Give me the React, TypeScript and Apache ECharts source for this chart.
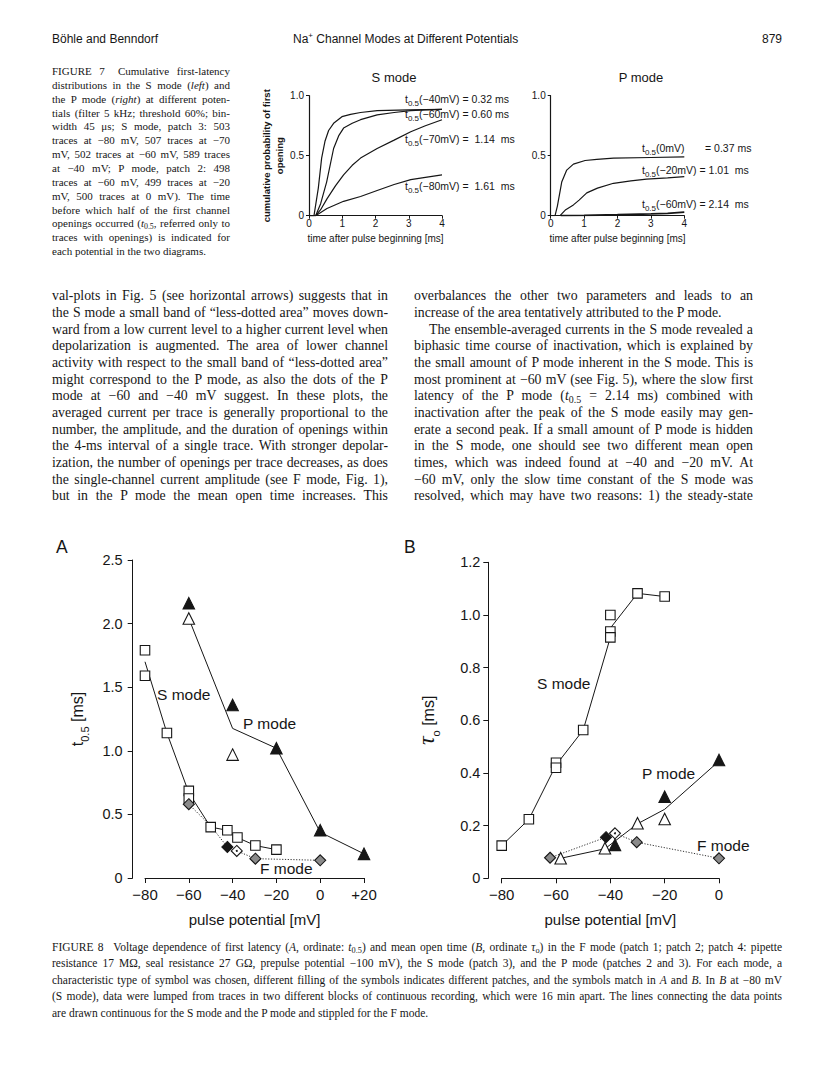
import React, { useEffect, useRef } from "react";
import * as echarts from "echarts";

// ---------- FIGURE 7 data (cumulative first-latency distributions) ----------
const fig7TimeMs = [0, 1, 2, 3, 4];
const sMode40 = [[0, 0], [0.15, 0], [0.28, 0.23], [0.38, 0.48], [0.48, 0.62], [0.59, 0.71], [0.74, 0.77], [0.99, 0.825], [1.25, 0.845], [1.55, 0.86], [2.05, 0.875], [3, 0.882], [4, 0.886]];
const sMode60 = [[0, 0], [0.2, 0], [0.35, 0.1], [0.53, 0.28], [0.74, 0.56], [0.9, 0.67], [1.04, 0.73], [1.3, 0.77], [1.55, 0.8], [2.05, 0.84], [2.56, 0.86], [3.06, 0.875], [3.5, 0.882], [4, 0.886]];
const sMode70 = [[0, 0], [0.2, 0], [0.35, 0.05], [0.54, 0.14], [0.8, 0.25], [1.04, 0.34], [1.3, 0.42], [1.55, 0.48], [2.05, 0.56], [2.56, 0.63], [3.06, 0.7], [3.5, 0.75], [4, 0.8]];
const sMode80 = [[0, 0], [0.2, 0], [0.54, 0.06], [1.04, 0.12], [1.55, 0.16], [2.05, 0.21], [2.56, 0.26], [3.06, 0.3], [3.5, 0.32], [4, 0.34]];
const pMode0 = [[0, 0], [0.13, 0], [0.2, 0.08], [0.33, 0.28], [0.48, 0.38], [0.68, 0.43], [1.03, 0.46], [1.38, 0.47], [1.88, 0.48], [3, 0.485], [4, 0.49]];
const pMode20 = [[0.28, 0], [0.45, 0.05], [0.68, 0.09], [0.85, 0.13], [1.08, 0.19], [1.4, 0.23], [1.88, 0.27], [2.4, 0.29], [2.87, 0.305], [3.5, 0.315], [4, 0.325]];
const pMode60 = [[0.3, 0], [1, 0.003], [2, 0.008], [3, 0.015], [3.5, 0.02], [4, 0.03]];
const sModeT05 = ["−40mV) = 0.32 ms", "−60mV) = 0.60 ms", "−70mV) =  1.14  ms", "−80mV) =  1.61  ms"];
const pModeT05 = ["−20mV) = 1.01  ms", "−60mV) = 2.14  ms"];

// ---------- FIGURE 8 A data: t0.5 [ms] vs pulse potential [mV] ----------
const potentialTicksA = [-80, -60, -40, -20, 0, 20];
const sSquaresA = [[-80, 1.79], [-80, 1.59], [-70, 1.14], [-60, 0.685], [-60, 0.625], [-50, 0.4], [-42.4, 0.375], [-37.8, 0.318], [-29.6, 0.255], [-20, 0.223]];
const sLineA = [[-80, 1.7], [-70, 1.14], [-60, 0.67], [-50, 0.4], [-42.4, 0.375], [-37.8, 0.318], [-29.6, 0.255], [-20, 0.223]];
const pFilledA = [[-60, 2.16], [-40, 1.36], [-20, 1.02], [0, 0.375], [20, 0.19]];
const pOpenA = [[-60, 2.04], [-40, 0.97]];
const pLineA = [[-60, 2.04], [-40, 1.176], [-20, 1.02], [0, 0.36], [20, 0.19]];
const fHatchA = [[-60, 0.58], [-29.6, 0.152], [0, 0.139]];
const fFilledA = [[-42.4, 0.244]];
const fOpenA = [[-38.1, 0.213]];
const fLineA = [[-60, 0.58], [-50, 0.41], [-42.4, 0.244], [-38.1, 0.213], [-29.6, 0.152], [0, 0.139]];

// ---------- FIGURE 8 B data: tau_o [ms] vs pulse potential [mV] ----------
const sSquaresB = [[-80, 0.124], [-70, 0.224], [-60, 0.439], [-60, 0.42], [-50, 0.563], [-40, 1.0], [-40, 0.937], [-40, 0.915], [-30, 1.082], [-20, 1.07]];
const sLineB = [[-80, 0.124], [-70, 0.224], [-60, 0.43], [-50, 0.563], [-40, 0.915], [-40, 0.95], [-30, 1.082], [-20, 1.07]];
const pOpenB = [[-58.3, 0.076], [-42, 0.114], [-30, 0.209], [-20, 0.225]];
const pFilledB = [[-38.3, 0.127], [-20, 0.31], [0, 0.449]];
const pLineB = [[-58.3, 0.076], [-42, 0.112], [-30, 0.207], [-20, 0.262], [0, 0.445]];
const fHatchB = [[-62.2, 0.078], [-30.3, 0.137], [0, 0.076]];
const fFilledB = [[-41.6, 0.156]];
const fOpenB = [[-38.3, 0.171]];
const fLineB = [[-62.2, 0.078], [-41.6, 0.156], [-38.3, 0.171], [-30.3, 0.137], [0, 0.076]];

// ---------- text ----------
const SANS = '"Liberation Sans", Arial, Helvetica, sans-serif';
const SERIF = '"Liberation Serif", "Times New Roman", serif';
const INK = "#161616";
const SUB = (s: string) => `<sub style="font-size:0.72em;vertical-align:-0.3em;line-height:0">${s}</sub>`;
const T05 = `<i>t</i>${SUB("0.5")}`;

const fig7Caption = [
  "FIGURE 7&ensp; Cumulative first-latency",
  "distributions in the S mode (<i>left</i>) and",
  "the P mode (<i>right</i>) at different poten-",
  "tials (filter 5 kHz; threshold 60%; bin-",
  "width 45 μs; S mode, patch 3: 503",
  "traces at −80 mV, 507 traces at −70",
  "mV, 502 traces at −60 mV, 589 traces",
  "at −40 mV; P mode, patch 2: 498",
  "traces at −60 mV, 499 traces at −20",
  "mV, 500 traces at 0 mV). The time",
  "before which half of the first channel",
  `openings occurred (${T05}, referred only to`,
  "traces with openings) is indicated for",
  "each potential in the two diagrams.",
];

const leftColumn = [
  "val-plots in Fig. 5 (see horizontal arrows) suggests that in",
  "the S mode a small band of “less-dotted area” moves down-",
  "ward from a low current level to a higher current level when",
  "depolarization is augmented. The area of lower channel",
  "activity with respect to the small band of “less-dotted area”",
  "might correspond to the P mode, as also the dots of the P",
  "mode at −60 and −40 mV suggest. In these plots, the",
  "averaged current per trace is generally proportional to the",
  "number, the amplitude, and the duration of openings within",
  "the 4-ms interval of a single trace. With stronger depolar-",
  "ization, the number of openings per trace decreases, as does",
  "the single-channel current amplitude (see F mode, Fig. 1),",
  "but in the P mode the mean open time increases. This",
];

const rightColumn = [
  "overbalances the other two parameters and leads to an",
  "increase of the area tentatively attributed to the P mode.",
  "The ensemble-averaged currents in the S mode revealed a",
  "biphasic time course of inactivation, which is explained by",
  "the small amount of P mode inherent in the S mode. This is",
  "most prominent at −60 mV (see Fig. 5), where the slow first",
  `latency of the P mode (${T05} = 2.14 ms) combined with`,
  "inactivation after the peak of the S mode easily may gen-",
  "erate a second peak. If a small amount of P mode is hidden",
  "in the S mode, one should see two different mean open",
  "times, which was indeed found at −40 and −20 mV. At",
  "−60 mV, only the slow time constant of the S mode was",
  "resolved, which may have two reasons: 1) the steady-state",
];

const fig8Caption = [
  `FIGURE 8&ensp; Voltage dependence of first latency (<i>A</i>, ordinate: ${T05}) and mean open time (<i>B</i>, ordinate <i>τ</i>${SUB("o")}) in the F mode (patch 1; patch 2; patch 4: pipette`,
  "resistance 17 MΩ, seal resistance 27 GΩ, prepulse potential −100 mV), the S mode (patch 3), and the P mode (patches 2 and 3). For each mode, a",
  "characteristic type of symbol was chosen, different filling of the symbols indicates different patches, and the symbols match in <i>A</i> and <i>B</i>. In <i>B</i> at −80 mV",
  "(S mode), data were lumped from traces in two different blocks of continuous recording, which were 16 min apart. The lines connecting the data points",
  "are drawn continuous for the S mode and the P mode and stippled for the F mode.",
];

// ---------- chart helpers ----------
const fmt1 = (v: number) => (v === 0 ? "0" : v.toFixed(1));
const fmtMv = (v: number) => (v > 0 ? "+" + v : v < 0 ? "−" + Math.abs(v) : "0");

function lineS(data: number[][], i: number, dotted = false, width = 1) {
  return {
    type: "line", xAxisIndex: i, yAxisIndex: i, data, symbol: "none", showSymbol: false, silent: true, z: 2,
    lineStyle: { color: dotted ? "#333" : INK, width, type: dotted ? [1.2, 1.6] : "solid" },
  };
}
function scat(data: number[][], i: number, symbol: string, size: number, fill: string, z = 3, border = 1.1) {
  return {
    type: "scatter", xAxisIndex: i, yAxisIndex: i, data, symbol, symbolSize: size, silent: true, z,
    itemStyle: { color: fill, borderColor: INK, borderWidth: border, opacity: 1 },
  };
}

function smallX(i: number) {
  return {
    gridIndex: i, type: "value", min: 0, max: 4, interval: 1,
    axisLine: { show: true, onZero: false, lineStyle: { color: INK, width: 1.2 } },
    axisTick: { show: true, length: 3, lineStyle: { color: INK } },
    splitLine: { show: false },
    axisLabel: { fontSize: 10, margin: 3, color: INK, fontFamily: SANS },
    name: "time after pulse beginning [ms]", nameLocation: "middle", nameGap: 18,
    nameTextStyle: { fontSize: 10, color: INK, fontFamily: SANS },
  };
}
function smallY(i: number, name: string) {
  return {
    gridIndex: i, type: "value", min: 0, max: 1, interval: 0.5,
    axisLine: { show: true, onZero: false, lineStyle: { color: INK, width: 1.2 } },
    axisTick: { show: true, length: 3, lineStyle: { color: INK } },
    splitLine: { show: false },
    axisLabel: { fontSize: 10, margin: 5, color: INK, fontFamily: SANS, formatter: fmt1 },
    name, nameLocation: "middle", nameGap: 21,
    nameTextStyle: { fontSize: 9.5, lineHeight: 13, color: INK, fontFamily: SANS, fontWeight: "bold" },
  };
}

function bigX(i: number, max: number) {
  return {
    gridIndex: i, type: "value", min: -80, max, interval: 20,
    axisLine: { show: true, onZero: false, lineStyle: { color: INK, width: 1 } },
    axisTick: { show: true, length: 5, lineStyle: { color: INK } },
    splitLine: { show: false },
    axisLabel: { fontSize: 15, margin: 9, color: INK, fontFamily: SANS, formatter: fmtMv },
    name: "pulse potential [mV]", nameLocation: "middle", nameGap: 34,
    nameTextStyle: { fontSize: 15, color: INK, fontFamily: SANS },
  };
}

function ann(x: number, y: number, rest: string, size = 10.5) {
  return {
    type: "text", x, y, silent: true,
    style: {
      text: `{b|t}{s|0.5}{b|(${rest}}`,
      verticalAlign: "middle", align: "left",
      rich: {
        b: { fontSize: size, fontFamily: SANS, fill: INK, color: INK, padding: [0, 0, 3, 0], verticalAlign: "bottom" },
        s: { fontSize: 8, fontFamily: SANS, fill: INK, color: INK, verticalAlign: "bottom" },
      },
    },
  };
}
function label(x: number, y: number, text: string, size = 15.5, align = "left") {
  return {
    type: "text", x, y, silent: true,
    style: { text, fontSize: size, fontFamily: SANS, fill: INK, verticalAlign: "middle", align },
  };
}

function buildOption() {
  return {
    animation: false,
    backgroundColor: "transparent",
    grid: [
      { left: 309, top: 95.7, width: 133, height: 120 },
      { left: 550.7, top: 95.7, width: 133.6, height: 120 },
      { left: 145, top: 560, width: 219, height: 318 },
      { left: 501.7, top: 562.3, width: 217.3, height: 316 },
    ],
    xAxis: [smallX(0), smallX(1), bigX(2, potentialTicksA[potentialTicksA.length - 1]), bigX(3, 0)],
    yAxis: [
      smallY(0, "cumulative probability of first\nopening"),
      smallY(1, ""),
      {
        gridIndex: 2, type: "value", min: 0, max: 2.5, interval: 0.5, offset: 12.3,
        axisLine: { show: true, onZero: false, lineStyle: { color: INK, width: 1 } },
        axisTick: { show: true, length: 5, lineStyle: { color: INK } },
        splitLine: { show: false },
        axisLabel: { fontSize: 14.5, margin: 10, color: INK, fontFamily: SANS, formatter: fmt1 },
        name: "{b|t}{s|0.5}{b| [ms]}", nameLocation: "middle", nameGap: 42,
        nameTextStyle: {
          color: INK,
          rich: {
            b: { fontSize: 16, fontFamily: SANS, color: INK, padding: [0, 0, 5, 0], verticalAlign: "bottom" },
            s: { fontSize: 11, fontFamily: SANS, color: INK, verticalAlign: "bottom" },
          },
        },
      },
      {
        gridIndex: 3, type: "value", min: 0, max: 1.2, interval: 0.2, offset: 13.4,
        axisLine: { show: true, onZero: false, lineStyle: { color: INK, width: 1 } },
        axisTick: { show: true, length: 5, lineStyle: { color: INK } },
        splitLine: { show: false },
        axisLabel: { fontSize: 14.5, margin: 8, color: INK, fontFamily: SANS, formatter: fmt1 },
        name: "{t|τ}{s|o}{b| [ms]}", nameLocation: "middle", nameGap: 47,
        nameTextStyle: {
          color: INK,
          rich: {
            t: { fontSize: 24, fontFamily: SERIF, fontStyle: "italic", color: INK, padding: [0, 0, 3, 0], verticalAlign: "bottom" },
            b: { fontSize: 16, fontFamily: SANS, color: INK, padding: [0, 0, 5, 0], verticalAlign: "bottom" },
            s: { fontSize: 11, fontFamily: SANS, color: INK, verticalAlign: "bottom" },
          },
        },
      },
    ],
    series: [
      // Figure 7, S mode
      lineS(sMode40, 0, false, 1.2), lineS(sMode60, 0, false, 1.2), lineS(sMode70, 0, false, 1.2), lineS(sMode80, 0, false, 1.2),
      // Figure 7, P mode
      lineS(pMode0, 1, false, 1.2), lineS(pMode20, 1, false, 1.2), lineS(pMode60, 1, false, 1.8),
      // Figure 8 A
      lineS(sLineA, 2), lineS(pLineA, 2), lineS(fLineA, 2, true),
      scat(sSquaresA, 2, "rect", 9.5, "#fff"),
      scat(pOpenA, 2, "triangle", 11.5, "#fff"),
      scat(pFilledA, 2, "triangle", 11.5, INK),
      scat(fHatchA, 2, "diamond", 11, "#8a8a8a"),
      scat(fFilledA, 2, "diamond", 11, INK),
      scat(fOpenA, 2, "diamond", 11, "#fff"),
      scat(fOpenA, 2, "circle", 2, INK, 4, 0),
      // Figure 8 B
      lineS(sLineB, 3), lineS(pLineB, 3), lineS(fLineB, 3, true),
      scat(sSquaresB, 3, "rect", 9.5, "#fff"),
      scat(pOpenB, 3, "triangle", 11.5, "#fff"),
      scat(pFilledB, 3, "triangle", 11.5, INK),
      scat(fHatchB, 3, "diamond", 11, "#8a8a8a"),
      scat(fFilledB, 3, "diamond", 11, INK),
      scat(fOpenB, 3, "diamond", 11, "#fff"),
      scat(fOpenB, 3, "circle", 2, INK, 4, 0),
    ],
    graphic: [
      label(394, 77.7, "S mode", 13, "center"),
      label(641, 77.7, "P mode", 13, "center"),
      ann(405, 100, sModeT05[0]),
      ann(405, 115.7, sModeT05[1]),
      ann(405, 140, sModeT05[2]),
      ann(405, 187, sModeT05[3]),
      ann(642, 149, "0mV)"),
      label(705, 148, "= 0.37 ms", 10.5),
      ann(642, 171, pModeT05[0]),
      ann(642, 205, pModeT05[1]),
      label(56, 547, "A", 17.5),
      label(404, 547, "B", 17.5),
      label(157, 694, "S mode"),
      label(243, 723, "P mode"),
      label(260, 868, "F mode"),
      label(537, 683, "S mode"),
      label(642, 773, "P mode"),
      label(697, 845, "F mode"),
    ],
  };
}

function TextLine(props: { html: string; x: number; y: number; w: number; size: number; lh: number; justify: boolean; family?: string }) {
  const { html, x, y, w, size, lh, justify, family } = props;
  return (
    <div
      style={{
        position: "absolute", left: x, top: y - lh / 2, width: w, height: lh, lineHeight: lh + "px",
        fontSize: size, fontFamily: family || SERIF, color: INK, whiteSpace: "nowrap",
        textAlign: justify ? "justify" : "left", textAlignLast: justify ? "justify" : "left",
      } as any}
      dangerouslySetInnerHTML={{ __html: html }}
    />
  );
}

export default function App() {
  const ref = useRef<HTMLDivElement>(null);
  useEffect(() => {
    if (!ref.current) return;
    const chart = echarts.init(ref.current, null, { renderer: "svg" });
    chart.setOption(buildOption() as any);
    return () => chart.dispose();
  }, []);

  const lines: any[] = [];
  fig7Caption.forEach((h, i) =>
    lines.push(<TextLine key={"c7" + i} html={h} x={52} y={71 + 13.85 * i} w={178} size={11} lh={14} justify={i < fig7Caption.length - 1} />)
  );
  leftColumn.forEach((h, i) =>
    lines.push(<TextLine key={"l" + i} html={h} x={52} y={296.7 + 16.67 * i} w={336} size={13.8} lh={16.67} justify={true} />)
  );
  rightColumn.forEach((h, i) =>
    lines.push(
      <TextLine key={"r" + i} html={h} x={i === 2 ? 429 : 414} y={296.7 + 16.67 * i} w={i === 2 ? 324 : 339} size={13.8} lh={16.67} justify={i !== 1} />
    )
  );
  fig8Caption.forEach((h, i) =>
    lines.push(<TextLine key={"c8" + i} html={h} x={52} y={947 + 16.5 * i} w={730} size={11.5} lh={15} justify={i < fig8Caption.length - 1} />)
  );

  return (
    <div style={{ position: "absolute", left: 0, top: 0, width: 816, height: 1076, background: "#fff", overflow: "hidden" }}>
      <div ref={ref} style={{ position: "absolute", left: 0, top: 0, width: 816, height: 1076 }} />
      <div style={{ position: "absolute", left: 52, top: 32, fontFamily: SANS, fontSize: 12, color: INK, whiteSpace: "nowrap" }}>Böhle and Benndorf</div>
      <div style={{ position: "absolute", left: 293, top: 32, fontFamily: SANS, fontSize: 12, color: INK, whiteSpace: "nowrap" }}>
        Na<sup style={{ fontSize: 8, lineHeight: 0 }}>+</sup> Channel Modes at Different Potentials
      </div>
      <div style={{ position: "absolute", right: 816 - 782, top: 32, fontFamily: SANS, fontSize: 12, color: INK }}>879</div>
      {lines}
    </div>
  );
}
